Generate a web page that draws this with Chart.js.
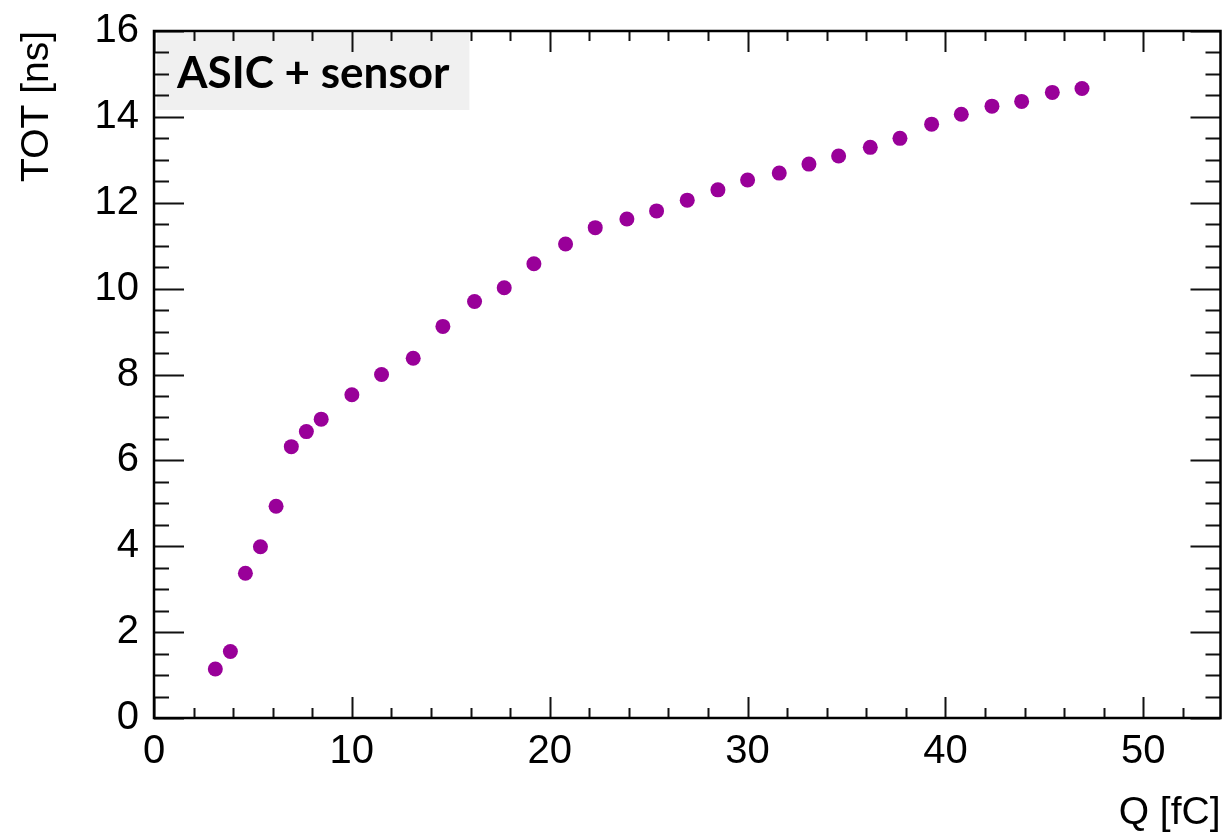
<!DOCTYPE html>
<html>
<head>
<meta charset="utf-8">
<script src="https://cdn.jsdelivr.net/npm/chart.js@4"></script>
<style>
  html, body { margin: 0; padding: 0; background: #fff; }
  canvas { display: block; }
</style>
</head>
<body>
<canvas id="totChart" width="1228" height="839"></canvas>
<script>
const chargeFc = [3.1, 3.86, 4.62, 5.38, 6.17, 6.94, 7.7, 8.45, 10.0, 11.5, 13.1, 14.6, 16.2, 17.7, 19.2, 20.8,
    22.3, 23.9, 25.4, 26.95, 28.5, 30.0, 31.6, 33.1, 34.6, 36.2, 37.7, 39.3, 40.8, 42.35, 43.85, 45.4, 46.9];
const totNs = [1.14, 1.55, 3.37, 3.99, 4.93, 6.32, 6.67, 6.96, 7.53, 8.0, 8.38, 9.12, 9.70, 10.02, 10.58, 11.04,
    11.42, 11.62, 11.81, 12.06, 12.30, 12.53, 12.69, 12.90, 13.09, 13.29, 13.50, 13.83, 14.06, 14.25, 14.36, 14.57, 14.66];
const xTicks = [0, 10, 20, 30, 40, 50];
const yTicks = [0, 2, 4, 6, 8, 10, 12, 14, 16];
const labelText = 'ASIC + sensor';

const markerColor = 'rgb(153, 0, 153)';

// ROOT style frame with inward ticks on all four sides
const rootFrame = {
    id: 'rootFrame',
    beforeDatasetsDraw(chart) {
        const {ctx, chartArea: a} = chart;
        ctx.save();
        ctx.font = 'bold 44px Lato';
        const w = ctx.measureText(labelText).width;
        ctx.fillStyle = '#f0f0f0';
        ctx.fillRect(a.left + 3, a.top + 2, w + 40, 77);
        ctx.fillStyle = '#000';
        ctx.textBaseline = 'alphabetic';
        ctx.fillText(labelText, a.left + 23, a.top + 57);
        ctx.restore();
    },
    afterDraw(chart) {
        const {ctx, chartArea: a, scales: {x, y}} = chart;
        ctx.save();
        ctx.strokeStyle = '#111';
        ctx.lineWidth = 2;
        ctx.beginPath();
        for (let v = 0; v <= x.max + 1e-9; v += 2) {
            const px = Math.round(x.getPixelForValue(v)) + 0.5;
            const len = v % 10 === 0 ? 21 : 10;
            ctx.moveTo(px, a.bottom); ctx.lineTo(px, a.bottom - len);
            ctx.moveTo(px, a.top); ctx.lineTo(px, a.top + len);
        }
        for (let v = 0; v <= y.max + 1e-9; v += 0.5) {
            const py = Math.round(y.getPixelForValue(v)) + 0.5;
            const len = v % 2 === 0 ? 30 : 15;
            ctx.moveTo(a.left, py); ctx.lineTo(a.left + len, py);
            ctx.moveTo(a.right, py); ctx.lineTo(a.right - len, py);
        }
        ctx.stroke();
        ctx.strokeStyle = '#000';
        ctx.lineWidth = 2.5;
        ctx.strokeRect(a.left, a.top, a.right - a.left, a.bottom - a.top);
        ctx.restore();
    }
};

const tickFont = {family: "'Liberation Sans', Arial, sans-serif", size: 40};
const titleFont = {family: "'Liberation Sans', Arial, sans-serif", size: 39};

new Chart(document.getElementById('totChart'), {
    type: 'scatter',
    data: {
        datasets: [{
            data: chargeFc.map((q, i) => ({x: q, y: totNs[i]})),
            backgroundColor: markerColor,
            borderColor: markerColor,
            pointRadius: 7.5,
            pointBorderWidth: 0
        }]
    },
    options: {
        responsive: false,
        animation: false,
        layout: {padding: {top: 28, right: 5, left: 0, bottom: 0}},
        plugins: {legend: {display: false}, tooltip: {enabled: false}},
        scales: {
            x: {
                type: 'linear',
                min: 0,
                max: 53.9,
                grid: {display: false},
                border: {display: false},
                afterBuildTicks: s => { s.ticks = xTicks.map(v => ({value: v})); },
                afterFit: s => { s.height = 121; },
                ticks: {color: '#000', font: tickFont, padding: 2, autoSkip: false, maxRotation: 0},
                title: {display: true, text: 'Q [fC]', align: 'end', color: '#000', font: titleFont, padding: {top: 0, bottom: 2}}
            },
            y: {
                type: 'linear',
                min: 0,
                max: 16,
                grid: {display: false},
                border: {display: false},
                afterBuildTicks: s => { s.ticks = yTicks.map(v => ({value: v})); },
                afterFit: s => { s.width = 154; },
                ticks: {color: '#000', font: tickFont, padding: 7, autoSkip: false},
                title: {display: true, text: 'TOT [ns]', align: 'end', color: '#000', font: titleFont, padding: {top: 14, bottom: 0}}
            }
        }
    },
    plugins: [rootFrame]
});
</script>
</body>
</html>
